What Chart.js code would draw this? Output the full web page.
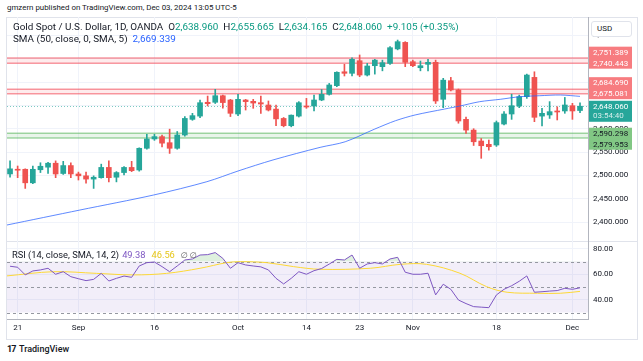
<!DOCTYPE html>
<html>
<head>
<meta charset="utf-8">
<script src="https://cdn.jsdelivr.net/npm/chart.js@4.4.1/dist/chart.umd.min.js"></script>
<style>
body { margin: 0; background: #fff; width: 643px; height: 361px; overflow: hidden; position: relative; font-family: Roboto, "DejaVu Sans", sans-serif; color: #131722; }
#frame { position: absolute; left: 6px; top: 17px; width: 632px; height: 323px; border: 1px solid #e0e3eb; box-sizing: border-box; }
#sep { position: absolute; left: 6px; top: 241px; width: 632px; height: 1px; background: #e0e3eb; }
.txt { position: absolute; white-space: nowrap; font-size: 9.9px; line-height: 10px; }
.g { color: #089981; }
.b { color: #2962ff; }
.p { color: #7e57c2; margin-left: 3px; }
.y { color: #e6c619; margin-left: 6px; }
.n { color: #555; margin-left: 6px; font-size: 8px; }
#usd { position: absolute; left: 591px; top: 21px; width: 41px; height: 16px; border: 1px solid #e0e3eb; border-radius: 3px; box-sizing: border-box; font-size: 8px; line-height: 14px; padding-left: 5px; background: #fff; }
canvas { position: absolute; left: 0; }
</style>
</head>
<body>
<div class="txt" style="left:7px;top:3px;font-size:7.9px">gmzern published on TradingView.com, Dec 03, 2024 13:05 UTC-5</div>
<div id="frame"></div>
<div id="sep"></div>
<canvas id="mainChart" width="637" height="224" style="top:17px"></canvas>
<canvas id="rsiChart" width="637" height="99" style="top:241px"></canvas>
<div class="txt" style="left:13px;top:22px">Gold Spot / U.S. Dollar, 1D, OANDA&nbsp; O<span class="g">2,638.960</span>&nbsp; H<span class="g">2,655.665</span>&nbsp; L<span class="g">2,634.165</span>&nbsp; C<span class="g">2,648.060</span>&nbsp; <span class="g">+9.105 (+0.35%)</span></div>
<div class="txt" style="left:13px;top:34px">SMA (50, close, 0, SMA, 5)&nbsp; <span class="b">2,669.339</span></div>
<div class="txt" style="left:12px;top:250px;font-size:9.3px">RSI (14, close, SMA, 14, 2)<span class="p">49.38</span><span class="y">46.56</span><span class="n">∅ ∅</span></div>
<div id="usd">USD</div>
<div class="txt" style="left:7px;top:344px;font-size:9px;font-weight:bold;letter-spacing:-1px">17</div>
<div class="txt" style="left:19px;top:344px;font-size:9px;font-weight:500">TradingView</div>

<script>
// trading days shown (Aug 20 - Dec 3, 2024)
var dates = ['Aug 20','Aug 21','Aug 22','Aug 23','Aug 26','Aug 27','Aug 28','Aug 29','Aug 30',
	'Sep 2','Sep 3','Sep 4','Sep 5','Sep 6','Sep 9','Sep 10','Sep 11','Sep 12','Sep 13','Sep 16','Sep 17','Sep 18','Sep 19','Sep 20','Sep 23','Sep 24','Sep 25','Sep 26','Sep 27','Sep 30',
	'Oct 1','Oct 2','Oct 3','Oct 4','Oct 7','Oct 8','Oct 9','Oct 10','Oct 11','Oct 14','Oct 15','Oct 16','Oct 17','Oct 18','Oct 21','Oct 22','Oct 23','Oct 24','Oct 25','Oct 28','Oct 29','Oct 30','Oct 31',
	'Nov 1','Nov 4','Nov 5','Nov 6','Nov 7','Nov 8','Nov 11','Nov 12','Nov 13','Nov 14','Nov 15','Nov 18','Nov 19','Nov 20','Nov 21','Nov 22','Nov 25','Nov 26','Nov 27','Nov 28','Nov 29',
	'Dec 2','Dec 3'];

var opens = [2503,2513,2513,2484,2512,2517.5,2526,2504,2521,2503,2499,2492,2495,2517,2496,2506,2517,2511.5,2558,2578,
	2583,2570,2558,2586.5,2620,2627,2656.6,2656.6,2670.7,2661.5,2631.5,2661.5,2658.7,2655.7,2650.8,2642,2622,2606.4,2627,2648,
	2648.6,2661.5,2673.7,2692.2,2722,2718.7,2745.7,2715,2735,2733,2740,2771,2785,2743.6,2730.7,2738,2742.3,2663,2702.9,2683,
	2620,2597,2573.6,2566.5,2565,2610,2631.5,2648.6,2668.6,2710,2627,2629.4,2638,2638,2649.3,2638.96];
var highs = [2531,2520,2514,2520,2527,2528,2531,2530,2527,2507,2507,2499,2524,2531,2508,2519,2530,2559,2588,2588,
	2586.5,2599,2594,2626,2633,2661.5,2670,2684.4,2672,2663,2673.7,2663,2663,2670,2659.4,2650.8,2624,2629.5,2658,2665,
	2672,2684,2697,2722,2738,2752,2758,2740,2748.7,2747,2776,2790,2786.5,2747,2745,2748.7,2747,2708,2710,2685,
	2625,2600,2579,2575.8,2616.5,2636.5,2674,2672,2717,2722,2643.7,2658,2647,2667,2654.4,2655.665];
var lows = [2496,2495,2472,2482,2506,2504,2495,2502,2495,2490,2483,2472,2494,2486,2486,2501,2508,2509,2556,2575,
	2561,2547,2556,2584,2618,2623.6,2648.7,2654,2644,2626,2628,2640,2643.7,2633,2638,2606.4,2604,2604,2625,2643.7,
	2638,2660,2672,2690,2713,2713,2711.5,2713,2717,2724,2738,2769,2733,2733,2724,2724,2654,2645,2681,2611.7,
	2590,2564,2536.5,2554,2562,2608,2620,2645,2665,2615,2606,2622,2618.7,2633,2620,2634.165];
var closes = [2514,2511,2484,2513,2519.5,2526,2503,2521,2503,2499,2492,2496,2517,2495,2506,2517,2510,2558,2578,2583,
	2569,2558,2586.5,2622,2628,2655.7,2653.6,2670.7,2656,2633,2663,2658,2655,2653,2640,2621,2606.4,2629,2655.7,2646.5,
	2661.5,2673.7,2693.7,2720.9,2718.7,2748.7,2715,2734.4,2747,2741.5,2773.6,2786.5,2742.3,2735,2735,2742.3,2659.4,2704,2683,2616.5,
	2597,2572,2563.5,2561.4,2613,2631.5,2649.3,2668.6,2715,2624.4,2633,2636.5,2635.8,2650.8,2638,2648.06];

// SMA 50 (bar position, value)
var smaX = [-0.43, 9.2, 18.9, 25.9, 30, 34.6, 40.8, 44.1, 48, 50.7, 53.3, 57.2, 59.2, 61.8, 64.5, 67.1, 69.7, 72.4, 75];
var smaY = [2393.5, 2425.7, 2457.9, 2486.4, 2509.3, 2533, 2560, 2572, 2599.3, 2617, 2629.4, 2642.2, 2648.6, 2657.9, 2663, 2668.6, 2670.7, 2672.2, 2669.339];

var rsi = [66.3,65.5,59.5,62.6,63.4,64.7,60,62,58.1,56.5,55,56,60.7,54.7,56.8,58.6,57.6,66.5,69.1,69.6,
	66,62,66.5,71.2,72,75.1,75.4,77,72.5,64.7,69.1,67.3,66.5,65.8,63.4,56.8,52.4,56.8,62,60,
	62.8,64.5,68,71.7,71.2,75.1,64.7,68.1,69.1,68.1,72,73.3,61.6,60,60,60.8,43.8,52.2,48.2,39.8,
	37,34.6,34.2,33.8,43.8,48.2,51,54.5,58.7,45.9,46.3,46.8,47.2,49,48.2,49.38];
var rsiSmaX = [-0.43, 5.7, 11.4, 16.2, 20.6, 25, 28.5, 30.3, 33.8, 37.3, 40.8, 47.4, 51.4, 54.8, 59.2, 62.7, 65.4, 69.4, 72.4, 75];
var rsiSmaY = [58.7, 62, 60.7, 59.5, 60.7, 64.7, 69.1, 69.9, 69.1, 66, 63.9, 64.7, 67.8, 67.8, 60.8, 50.3, 45.9, 45.1, 45.1, 46.56];

var tickIdx = [1, 9, 19, 30, 39, 46, 53, 64, 74];
var tickText = ['21', 'Sep', '16', 'Oct', '14', '23', 'Nov', '18', 'Dec'];
var priceTicks = [2400, 2450, 2500, 2550, 2600, 2650, 2700, 2750, 2800];
var rsiTicks = [40, 60, 80];

// support / resistance zones drawn on the chart
var zoneLow = [2740.443, 2675.081, 2579.953];
var zoneHigh = [2751.389, 2684.690, 2590.298];
var zoneKind = ['down', 'down', 'up'];
var lastPrice = 2648.060;
var countdown = '03:54:40';

var UP = '#26a69a', DOWN = '#ef5350';
var candleColor = closes.map(function(c, i) { return c >= opens[i] ? UP : DOWN; });

var X_MIN = -0.4, X_MAX = 76.05;

function fmt3(v) { return v.toLocaleString('en-US', {minimumFractionDigits: 3, maximumFractionDigits: 3}); }

// no extra room for edge labels, the chart area fills the canvas
function noPad(s)
{
	s.paddingTop = 0; s.paddingBottom = 0; s.paddingLeft = 0; s.paddingRight = 0;
}

var zonesPlugin = {
	id: 'zones',
	beforeDatasetsDraw: function(chart)
	{
		var ctx = chart.ctx, a = chart.chartArea, y = chart.scales.y;
		ctx.save();
		for (var i = 0; i < zoneLow.length; i++)
		{
			var red = zoneKind[i] == 'down';
			var y1 = y.getPixelForValue(zoneHigh[i]), y2 = y.getPixelForValue(zoneLow[i]);
			ctx.fillStyle = red ? 'rgba(242,54,69,0.10)' : 'rgba(76,175,80,0.12)';
			ctx.fillRect(a.left, y1, a.right - a.left, y2 - y1);
			ctx.strokeStyle = red ? 'rgba(242,54,69,0.5)' : 'rgba(76,175,80,0.5)';
			ctx.lineWidth = 1.5;
			[y1, y2].forEach(function(p) {
				ctx.beginPath(); ctx.moveTo(a.left, p); ctx.lineTo(a.right, p); ctx.stroke();
			});
		}
		// last price dotted line
		var py = Math.round(y.getPixelForValue(lastPrice)) + 0.5;
		ctx.strokeStyle = 'rgba(38,166,154,0.6)';
		ctx.lineWidth = 1;
		ctx.setLineDash([1, 2]);
		ctx.beginPath(); ctx.moveTo(a.left, py); ctx.lineTo(a.right, py); ctx.stroke();
		ctx.restore();
	},
	afterDraw: function(chart)
	{
		var ctx = chart.ctx, a = chart.chartArea, y = chart.scales.y;
		var bx = a.right + 1, bw = 43, h = 11;
		ctx.save();
		ctx.font = '8px Roboto';
		ctx.textBaseline = 'middle';
		ctx.textAlign = 'left';
		for (var i = 0; i < zoneLow.length; i++)
		{
			var red = zoneKind[i] == 'down';
			var yh = y.getPixelForValue(zoneHigh[i]), yl = y.getPixelForValue(zoneLow[i]);
			// anchor label nearest the last price, push the other away
			if (red) { yh = Math.min(yh, yl - h); }
			else { yl = Math.max(yl, yh + h); }
			ctx.fillStyle = red ? '#f77c80' : '#81c784';
			ctx.fillRect(bx, yh - h / 2, bw, yl - yh + h);
			ctx.fillStyle = red ? '#ffffff' : '#131722';
			ctx.fillText(fmt3(zoneHigh[i]), bx + 4, yh + 0.5);
			ctx.fillText(fmt3(zoneLow[i]), bx + 4, yl + 0.5);
		}
		var py = y.getPixelForValue(lastPrice);
		ctx.fillStyle = UP;
		ctx.fillRect(bx, py - 5.5, bw, 21);
		ctx.fillStyle = '#ffffff';
		ctx.fillText(fmt3(lastPrice), bx + 4, py + 0.5);
		ctx.fillStyle = 'rgba(255,255,255,0.8)';
		ctx.fillText(countdown, bx + 4, py + 10);
		ctx.restore();
	}
};

var rsiBandPlugin = {
	id: 'rsiBand',
	beforeDatasetsDraw: function(chart)
	{
		var ctx = chart.ctx, a = chart.chartArea, y = chart.scales.y;
		ctx.save();
		var t = y.getPixelForValue(70), b = y.getPixelForValue(30);
		ctx.fillStyle = 'rgba(126,87,194,0.1)';
		ctx.fillRect(a.left, t, a.right - a.left, b - t);
		ctx.strokeStyle = '#9598a1';
		ctx.lineWidth = 1;
		ctx.setLineDash([3, 3]);
		[70, 50, 30].forEach(function(v) {
			var p = Math.round(y.getPixelForValue(v)) + 0.5;
			ctx.beginPath(); ctx.moveTo(a.left, p); ctx.lineTo(a.right, p); ctx.stroke();
		});
		ctx.restore();
	}
};

function xAxis(showLabels)
{
	return {
		type: 'linear', min: X_MIN, max: X_MAX, offset: false,
		afterBuildTicks: function(s) { s.ticks = tickIdx.map(function(v) { return {value: v}; }); },
		afterFit: function(s) { s.height = showLabels ? 21 : 0; noPad(s); },
		grid: { color: '#f0f3fa', drawTicks: false, offset: false },
		border: { display: showLabels, color: '#b2b5be' },
		ticks: {
			display: showLabels, autoSkip: false, maxRotation: 0, padding: 4,
			color: '#131722', font: { size: 8, family: 'Roboto' },
			callback: function(v) { return tickText[tickIdx.indexOf(v)]; }
		}
	};
}

function yAxis(lo, hi, tickList, label)
{
	return {
		position: 'right', min: lo, max: hi,
		afterBuildTicks: function(s) { s.ticks = tickList.map(function(v) { return {value: v}; }); },
		afterFit: function(s) { s.width = 49; noPad(s); },
		grid: { color: '#f0f3fa', drawTicks: false },
		border: { display: true, color: '#b2b5be' },
		ticks: { padding: 5, color: '#131722', font: { size: 8, family: 'Roboto' }, callback: label }
	};
}

Chart.defaults.animation = false;

var mainChart = new Chart(document.getElementById('mainChart').getContext('2d'), {
	type: 'bar',
	data: {
		datasets: [
			{
				type: 'line', order: 0,
				data: smaX.map(function(x, i) { return {x: x, y: smaY[i]}; }),
				borderColor: 'rgba(41,98,255,0.75)', borderWidth: 1, pointRadius: 0, tension: 0.3
			},
			{
				order: 1, grouped: false, barThickness: 5, minBarLength: 1,
				data: opens.map(function(o, i) { return {x: i, y: [o, closes[i]]}; }),
				backgroundColor: candleColor, borderWidth: 0
			},
			{
				order: 2, grouped: false, barThickness: 1,
				data: lows.map(function(l, i) { return {x: i, y: [l, highs[i]]}; }),
				backgroundColor: candleColor, borderWidth: 0
			}
		]
	},
	options: {
		responsive: false,
		layout: { padding: { left: 7, right: 0, top: 0, bottom: 0 }, autoPadding: false },
		plugins: { legend: { display: false }, tooltip: { enabled: false } },
		scales: {
			x: xAxis(false),
			y: yAxis(2359.3, 2839.4, priceTicks, function(v) { return fmt3(v); })
		}
	},
	plugins: [zonesPlugin]
});

var rsiChart = new Chart(document.getElementById('rsiChart').getContext('2d'), {
	type: 'line',
	data: {
		datasets: [
			{
				data: rsi.map(function(v, i) { return {x: i, y: v}; }),
				borderColor: '#7e57c2', borderWidth: 1, pointRadius: 0, tension: 0,
				fill: { value: 70, above: 'rgba(76,175,80,0.18)', below: 'rgba(0,0,0,0)' }
			},
			{
				data: rsiSmaX.map(function(x, i) { return {x: x, y: rsiSmaY[i]}; }),
				borderColor: '#fdd835', borderWidth: 1, pointRadius: 0, tension: 0.35
			}
		]
	},
	options: {
		responsive: false,
		layout: { padding: { left: 7, right: 0, top: 0, bottom: 0 }, autoPadding: false },
		plugins: { legend: { display: false }, tooltip: { enabled: false } },
		scales: {
			x: xAxis(true),
			y: yAxis(24.9, 86.1, rsiTicks, function(v) { return v.toFixed(2); })
		}
	},
	plugins: [rsiBandPlugin]
});
</script>
</body>
</html>
